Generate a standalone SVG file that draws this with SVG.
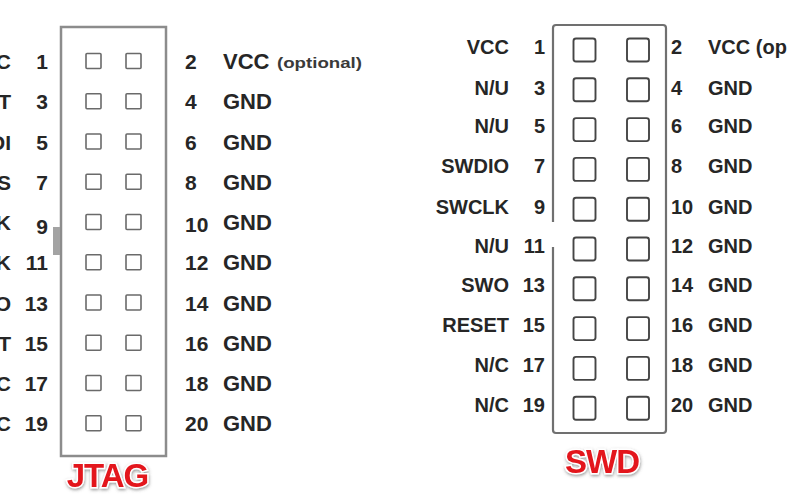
<svg xmlns="http://www.w3.org/2000/svg" width="790" height="500" viewBox="0 0 790 500">
<defs>
<filter id="sh" x="-20%" y="-30%" width="140%" height="160%">
<feDropShadow dx="0.5" dy="1.5" stdDeviation="1.5" flood-color="#555" flood-opacity="0.6"/>
</filter>
</defs>
<style>
text{font-family:"Liberation Sans",Arial,sans-serif;font-weight:bold;fill:#262626}
.jt{font-size:21px}
.jl{font-size:22px}
.sw{font-size:20px}
.end{text-anchor:end}
.opt{font-size:15px;fill:#3a3a3a}
.jpin{fill:none;stroke:#6a6a6a;stroke-width:1.6}
.spin{fill:none;stroke:#454545;stroke-width:1.9}
.title{font-size:33px;fill:#e3141c;stroke:#fff;stroke-width:3;paint-order:stroke;text-anchor:middle;letter-spacing:-1px}
</style>
<rect width="790" height="500" fill="#fff"/>

<g id="jtag">
<g id="jtag-box">
<rect x="61" y="27" width="105" height="429" fill="none" stroke="#8c8c8c" stroke-width="2.5"/>
<rect x="53" y="227" width="7" height="28" fill="#a3a3a3"/>
</g>
<g id="jtag-pins">
<rect class="jpin" x="86" y="53.5" width="15" height="15" rx="1"/><rect class="jpin" x="126" y="53.5" width="15" height="15" rx="1"/>
<rect class="jpin" x="86" y="93.75" width="15" height="15" rx="1"/><rect class="jpin" x="126" y="93.75" width="15" height="15" rx="1"/>
<rect class="jpin" x="86" y="134" width="15" height="15" rx="1"/><rect class="jpin" x="126" y="134" width="15" height="15" rx="1"/>
<rect class="jpin" x="86" y="174.25" width="15" height="15" rx="1"/><rect class="jpin" x="126" y="174.25" width="15" height="15" rx="1"/>
<rect class="jpin" x="86" y="214.5" width="15" height="15" rx="1"/><rect class="jpin" x="126" y="214.5" width="15" height="15" rx="1"/>
<rect class="jpin" x="86" y="254.75" width="15" height="15" rx="1"/><rect class="jpin" x="126" y="254.75" width="15" height="15" rx="1"/>
<rect class="jpin" x="86" y="295" width="15" height="15" rx="1"/><rect class="jpin" x="126" y="295" width="15" height="15" rx="1"/>
<rect class="jpin" x="86" y="335.25" width="15" height="15" rx="1"/><rect class="jpin" x="126" y="335.25" width="15" height="15" rx="1"/>
<rect class="jpin" x="86" y="375.5" width="15" height="15" rx="1"/><rect class="jpin" x="126" y="375.5" width="15" height="15" rx="1"/>
<rect class="jpin" x="86" y="415.75" width="15" height="15" rx="1"/><rect class="jpin" x="126" y="415.75" width="15" height="15" rx="1"/>
</g>
<g id="jtag-left-labels">
<text class="jt end" x="11" y="69">C</text>
<text class="jt end" x="11" y="109.25">T</text>
<text class="jt end" x="11" y="149.5">DI</text>
<text class="jt end" x="11" y="189.75">S</text>
<text class="jt end" x="11" y="230">K</text>
<text class="jt end" x="11" y="270.25">K</text>
<text class="jt end" x="11" y="310.5">O</text>
<text class="jt end" x="11" y="350.75">T</text>
<text class="jt end" x="11" y="391">C</text>
<text class="jt end" x="11" y="431.25">C</text>
</g>
<g id="jtag-left-numbers">
<text class="jt end" x="48" y="69">1</text>
<text class="jt end" x="48" y="109.25">3</text>
<text class="jt end" x="48" y="149.5">5</text>
<text class="jt end" x="48" y="189.75">7</text>
<text class="jt end" x="48" y="234">9</text>
<text class="jt end" x="48" y="270.25">11</text>
<text class="jt end" x="48" y="310.5">13</text>
<text class="jt end" x="48" y="350.75">15</text>
<text class="jt end" x="48" y="391">17</text>
<text class="jt end" x="48" y="431.25">19</text>
</g>
<g id="jtag-right-numbers">
<text class="jt" x="185" y="69">2</text>
<text class="jt" x="185" y="109.25">4</text>
<text class="jt" x="185" y="149.5">6</text>
<text class="jt" x="185" y="189.75">8</text>
<text class="jt" x="185" y="232">10</text>
<text class="jt" x="185" y="270.25">12</text>
<text class="jt" x="185" y="310.5">14</text>
<text class="jt" x="185" y="350.75">16</text>
<text class="jt" x="185" y="391">18</text>
<text class="jt" x="185" y="431.25">20</text>
</g>
<g id="jtag-right-labels">
<text class="jl" x="223" y="69">VCC</text>
<text class="opt" x="277" y="68" textLength="85" lengthAdjust="spacingAndGlyphs">(optional)</text>
<text class="jl" x="223" y="109.25">GND</text>
<text class="jl" x="223" y="149.5">GND</text>
<text class="jl" x="223" y="189.75">GND</text>
<text class="jl" x="223" y="230">GND</text>
<text class="jl" x="223" y="270.25">GND</text>
<text class="jl" x="223" y="310.5">GND</text>
<text class="jl" x="223" y="350.75">GND</text>
<text class="jl" x="223" y="391">GND</text>
<text class="jl" x="223" y="431.25">GND</text>
</g>
<text id="jtag-title" class="title" x="107.5" y="487" filter="url(#sh)">JTAG</text>
</g>

<g id="swd">
<g id="swd-box">
<path d="M553,222 V28 Q553,25 556,25 H663 Q666,25 666,28 V430 Q666,433 663,433 H556 Q553,433 553,430 V247" fill="none" stroke="#707070" stroke-width="2.2"/>
</g>
<g id="swd-pins">
<rect class="spin" x="573.5" y="38.5" width="22" height="23" rx="2.5"/><rect class="spin" x="627" y="38.5" width="22" height="23" rx="2.5"/>
<rect class="spin" x="573.5" y="78.3" width="22" height="23" rx="2.5"/><rect class="spin" x="627" y="78.3" width="22" height="23" rx="2.5"/>
<rect class="spin" x="573.5" y="118.1" width="22" height="23" rx="2.5"/><rect class="spin" x="627" y="118.1" width="22" height="23" rx="2.5"/>
<rect class="spin" x="573.5" y="157.9" width="22" height="23" rx="2.5"/><rect class="spin" x="627" y="157.9" width="22" height="23" rx="2.5"/>
<rect class="spin" x="573.5" y="197.7" width="22" height="23" rx="2.5"/><rect class="spin" x="627" y="197.7" width="22" height="23" rx="2.5"/>
<rect class="spin" x="573.5" y="237.5" width="22" height="23" rx="2.5"/><rect class="spin" x="627" y="237.5" width="22" height="23" rx="2.5"/>
<rect class="spin" x="573.5" y="277.3" width="22" height="23" rx="2.5"/><rect class="spin" x="627" y="277.3" width="22" height="23" rx="2.5"/>
<rect class="spin" x="573.5" y="317.1" width="22" height="23" rx="2.5"/><rect class="spin" x="627" y="317.1" width="22" height="23" rx="2.5"/>
<rect class="spin" x="573.5" y="356.9" width="22" height="23" rx="2.5"/><rect class="spin" x="627" y="356.9" width="22" height="23" rx="2.5"/>
<rect class="spin" x="573.5" y="396.7" width="22" height="23" rx="2.5"/><rect class="spin" x="627" y="396.7" width="22" height="23" rx="2.5"/>
</g>
<g id="swd-left-labels">
<text class="sw end" x="509" y="53.5">VCC</text>
<text class="sw end" x="509" y="95">N/U</text>
<text class="sw end" x="509" y="133.1">N/U</text>
<text class="sw end" x="509" y="172.9">SWDIO</text>
<text class="sw end" x="509" y="214">SWCLK</text>
<text class="sw end" x="509" y="252.5">N/U</text>
<text class="sw end" x="509" y="292.3">SWO</text>
<text class="sw end" x="509" y="332.1">RESET</text>
<text class="sw end" x="509" y="371.9">N/C</text>
<text class="sw end" x="509" y="411.7">N/C</text>
</g>
<g id="swd-left-numbers">
<text class="sw end" x="545" y="53.5">1</text>
<text class="sw end" x="545" y="95">3</text>
<text class="sw end" x="545" y="133.1">5</text>
<text class="sw end" x="545" y="172.9">7</text>
<text class="sw end" x="545" y="214">9</text>
<text class="sw end" x="545" y="252.5">11</text>
<text class="sw end" x="545" y="292.3">13</text>
<text class="sw end" x="545" y="332.1">15</text>
<text class="sw end" x="545" y="371.9">17</text>
<text class="sw end" x="545" y="411.7">19</text>
</g>
<g id="swd-right-numbers">
<text class="sw" x="671" y="53.5">2</text>
<text class="sw" x="671" y="95">4</text>
<text class="sw" x="671" y="133.1">6</text>
<text class="sw" x="671" y="172.9">8</text>
<text class="sw" x="671" y="214">10</text>
<text class="sw" x="671" y="252.5">12</text>
<text class="sw" x="671" y="292.3">14</text>
<text class="sw" x="671" y="332.1">16</text>
<text class="sw" x="671" y="371.9">18</text>
<text class="sw" x="671" y="411.7">20</text>
</g>
<g id="swd-right-labels">
<text class="sw" x="708" y="53.5">VCC (op</text>
<text class="sw" x="708" y="95">GND</text>
<text class="sw" x="708" y="133.1">GND</text>
<text class="sw" x="708" y="172.9">GND</text>
<text class="sw" x="708" y="214">GND</text>
<text class="sw" x="708" y="252.5">GND</text>
<text class="sw" x="708" y="292.3">GND</text>
<text class="sw" x="708" y="332.1">GND</text>
<text class="sw" x="708" y="371.9">GND</text>
<text class="sw" x="708" y="411.7">GND</text>
</g>
<text id="swd-title" class="title" x="602" y="473" filter="url(#sh)">SWD</text>
</g>
</svg>
